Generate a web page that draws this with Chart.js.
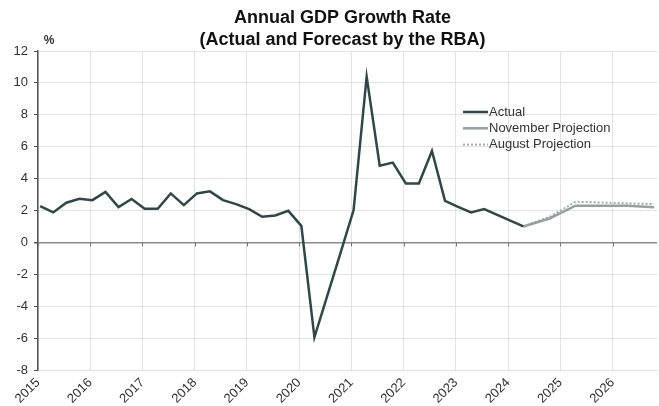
<!DOCTYPE html>
<html>
<head>
<meta charset="utf-8">
<script src="https://cdn.jsdelivr.net/npm/chart.js@4/dist/chart.umd.min.js"></script>
<style>
  html, body { margin: 0; padding: 0; background: #fff; }
  #wrap { width: 659px; height: 406px; }
</style>
</head>
<body>
<div id="wrap"><canvas id="gdpChart" width="659" height="406"></canvas></div>
<script>
// quarterly data, year-ended GDP growth (%)
const actualQuarters = [
    '2015 Q1', '2015 Q2', '2015 Q3', '2015 Q4',
    '2016 Q1', '2016 Q2', '2016 Q3', '2016 Q4',
    '2017 Q1', '2017 Q2', '2017 Q3', '2017 Q4',
    '2018 Q1', '2018 Q2', '2018 Q3', '2018 Q4',
    '2019 Q1', '2019 Q2', '2019 Q3', '2019 Q4',
    '2020 Q1', '2020 Q2', '2020 Q3', '2020 Q4',
    '2021 Q1', '2021 Q2', '2021 Q3', '2021 Q4',
    '2022 Q1', '2022 Q2', '2022 Q3', '2022 Q4',
    '2023 Q1', '2023 Q2', '2023 Q3', '2023 Q4',
    '2024 Q1', '2024 Q2'
];
const actualGrowth = [
    2.28, 1.88, 2.49, 2.74,
    2.65, 3.17, 2.21, 2.72,
    2.11, 2.11, 3.07, 2.34,
    3.07, 3.20, 2.65, 2.40,
    2.09, 1.61, 1.69, 1.98,
    1.04, -5.95, -3.30, -0.65,
    2.03, 10.39, 4.81, 5.00,
    3.70, 3.70, 5.73, 2.61,
    2.23, 1.88, 2.09, 1.72,
    1.37, 1.00
];
const projectionQuarters = ['2024 Q2', '2024 Q4', '2025 Q2', '2025 Q4', '2026 Q2', '2026 Q4'];
const novemberProjection = [1.0, 1.5, 2.3, 2.3, 2.3, 2.2];
const augustProjection = [1.0, 1.6, 2.55, 2.5, 2.45, 2.4];

const yearTicks = [2015, 2016, 2017, 2018, 2019, 2020, 2021, 2022, 2023, 2024, 2025, 2026];
const titleLines = ['Annual GDP Growth Rate', '(Actual and Forecast by the RBA)'];

const FONT = "'Liberation Sans', Arial, sans-serif";
const colActual = '#2e4848';
const colNov = '#93a1a1';
const colAug = '#a2aaaa';

// quarters are plotted at the middle of the quarter's first month
function quarterPos(q) {
    var parts = q.split(' Q');
    return Number(parts[0]) + (Number(parts[1]) - 1) / 4 + 1 / 24;
}

function toPoints(quarters, values) {
    return quarters.map(function (q, i) {
        return { x: quarterPos(q), y: values[i] };
    });
}

const extras = {
    id: 'extras',
    beforeDatasetsDraw: function (chart) {
        // small year ticks hanging off the zero line
        const ctx = chart.ctx;
        const xs = chart.scales.x;
        const y0 = chart.scales.y.getPixelForValue(0);
        ctx.save();
        ctx.strokeStyle = '#777';
        ctx.lineWidth = 1;
        yearTicks.forEach(function (yr) {
            const px = Math.round(xs.getPixelForValue(yr)) + 0.5;
            ctx.beginPath();
            ctx.moveTo(px, y0);
            ctx.lineTo(px, y0 + 4);
            ctx.stroke();
        });
        ctx.restore();
    },
    afterDraw: function (chart) {
        const ctx = chart.ctx;
        ctx.save();
        // title
        ctx.fillStyle = '#111';
        ctx.font = 'bold 18px ' + FONT;
        ctx.textAlign = 'center';
        ctx.textBaseline = 'middle';
        ctx.fillText(titleLines[0], 342.5, 18);
        ctx.fillText(titleLines[1], 342.5, 40);

        // unit label
        ctx.font = 'bold 12px ' + FONT;
        ctx.fillStyle = '#333';
        ctx.fillText('%', 49, 41);

        // legend
        const items = [
            { text: 'Actual', color: colActual, dash: [], width: 2.5 },
            { text: 'November Projection', color: colNov, dash: [], width: 2.5 },
            { text: 'August Projection', color: colAug, dash: [2, 2], width: 2 }
        ];
        ctx.font = '13px ' + FONT;
        ctx.textAlign = 'left';
        items.forEach(function (it, i) {
            const y = 112 + i * 16.3;
            ctx.beginPath();
            ctx.setLineDash(it.dash);
            ctx.strokeStyle = it.color;
            ctx.lineWidth = it.width;
            ctx.moveTo(463, y);
            ctx.lineTo(488, y);
            ctx.stroke();
            ctx.fillStyle = '#333';
            ctx.fillText(it.text, 489, y);
        });
        ctx.restore();
    }
};

new Chart(document.getElementById('gdpChart'), {
    type: 'line',
    data: {
        datasets: [{
            label: 'August Projection',
            data: toPoints(projectionQuarters, augustProjection),
            borderColor: colAug,
            borderWidth: 2,
            borderDash: [2, 2],
            pointRadius: 0,
            order: 3
        }, {
            label: 'November Projection',
            data: toPoints(projectionQuarters, novemberProjection),
            borderColor: colNov,
            borderWidth: 2.5,
            pointRadius: 0,
            order: 2
        }, {
            label: 'Actual',
            data: toPoints(actualQuarters, actualGrowth),
            borderColor: colActual,
            borderWidth: 2.5,
            pointRadius: 0,
            order: 1
        }]
    },
    options: {
        responsive: false,
        animation: false,
        events: [],
        layout: { padding: { top: 51, right: 2, left: 0, bottom: 0 } },
        plugins: {
            legend: { display: false },
            title: { display: false },
            tooltip: { enabled: false }
        },
        scales: {
            x: {
                type: 'linear',
                min: 2015,
                max: 2026.85,
                afterBuildTicks: function (scale) {
                    scale.ticks = yearTicks.map(function (v) { return { value: v }; });
                },
                afterFit: function (scale) { scale.height = 36; },
                ticks: {
                    minRotation: 45,
                    maxRotation: 45,
                    padding: 5,
                    color: '#333',
                    font: { family: FONT, size: 13 },
                    callback: function (v) { return String(v); }
                },
                grid: { color: '#e3e3e3', drawTicks: false },
                border: { color: '#e0e0e0' }
            },
            y: {
                min: -8,
                max: 12,
                afterFit: function (scale) { scale.width = 38; },
                ticks: {
                    stepSize: 2,
                    padding: 6,
                    color: '#333',
                    font: { family: FONT, size: 13 }
                },
                grid: {
                    color: function (c) { return c.tick && c.tick.value === 0 ? '#8a8a8a' : '#e3e3e3'; },
                    lineWidth: function (c) { return c.tick && c.tick.value === 0 ? 1.5 : 1; },
                    tickLength: 4,
                    tickColor: '#555'
                },
                border: { color: '#555', width: 1.5 }
            }
        }
    },
    plugins: [extras]
});
</script>
</body>
</html>
